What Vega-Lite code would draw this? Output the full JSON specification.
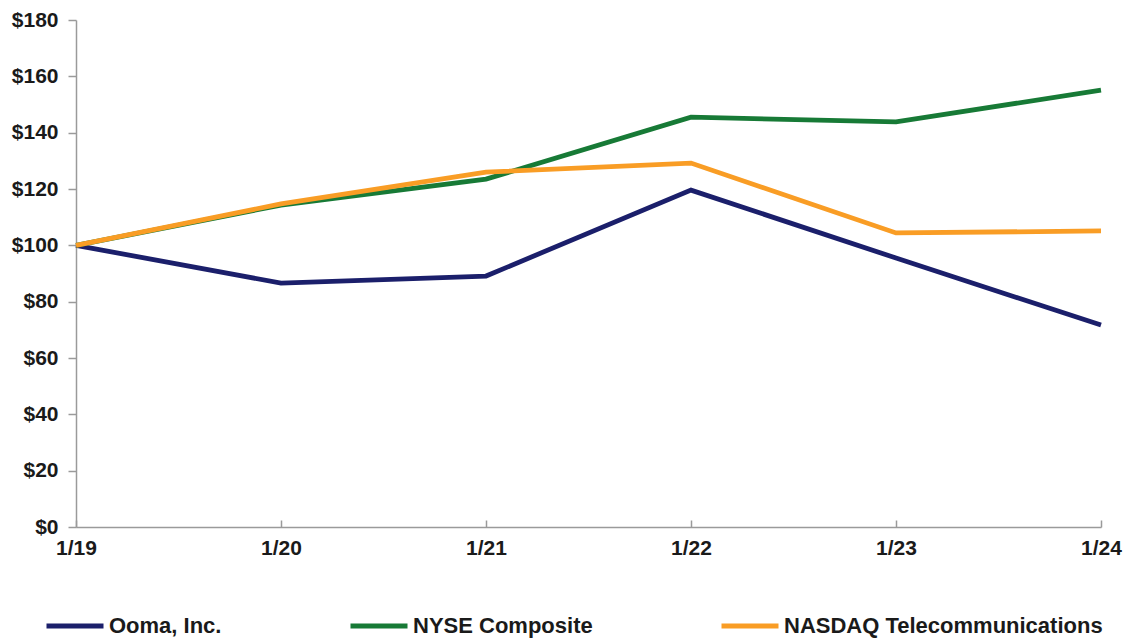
{
  "$schema": "https://vega.github.io/schema/vega-lite/v6.json",
  "width": 1025,
  "height": 507,
  "autosize": {"type": "none"},
  "padding": {"top": 20, "left": 76, "right": 25, "bottom": 111},
  "background": "white",
  "data": {
    "values": [
      {"date": "1/19", "series": "Ooma, Inc.", "value": 100},
      {"date": "1/20", "series": "Ooma, Inc.", "value": 86.6},
      {"date": "1/21", "series": "Ooma, Inc.", "value": 89.1},
      {"date": "1/22", "series": "Ooma, Inc.", "value": 119.6},
      {"date": "1/23", "series": "Ooma, Inc.", "value": 95.5},
      {"date": "1/24", "series": "Ooma, Inc.", "value": 71.7},
      {"date": "1/19", "series": "NYSE Composite", "value": 100},
      {"date": "1/20", "series": "NYSE Composite", "value": 114.3},
      {"date": "1/21", "series": "NYSE Composite", "value": 123.5},
      {"date": "1/22", "series": "NYSE Composite", "value": 145.5},
      {"date": "1/23", "series": "NYSE Composite", "value": 143.8},
      {"date": "1/24", "series": "NYSE Composite", "value": 155.1},
      {"date": "1/19", "series": "NASDAQ Telecommunications", "value": 100},
      {"date": "1/20", "series": "NASDAQ Telecommunications", "value": 114.7},
      {"date": "1/21", "series": "NASDAQ Telecommunications", "value": 126},
      {"date": "1/22", "series": "NASDAQ Telecommunications", "value": 129.2},
      {"date": "1/23", "series": "NASDAQ Telecommunications", "value": 104.4},
      {"date": "1/24", "series": "NASDAQ Telecommunications", "value": 105.1}
    ]
  },
  "mark": {"type": "line", "strokeWidth": 4.8, "strokeJoin": "miter", "strokeCap": "butt"},
  "encoding": {
    "x": {
      "field": "date",
      "type": "ordinal",
      "sort": null,
      "scale": {"type": "point", "padding": 0},
      "axis": {
        "title": null,
        "labelAngle": 0,
        "grid": false,
        "domainColor": "#9a9a9a",
        "domainWidth": 1.5,
        "tickColor": "#9a9a9a",
        "tickWidth": 1.5,
        "tickSize": -7,
        "labelPadding": 17,
        "labelFont": "Liberation Sans",
        "labelFontWeight": "bold",
        "labelFontSize": 21,
        "labelColor": "#1a1a1a"
      }
    },
    "y": {
      "field": "value",
      "type": "quantitative",
      "scale": {"domain": [0, 180], "nice": false, "zero": true},
      "axis": {
        "title": null,
        "values": [0, 20, 40, 60, 80, 100, 120, 140, 160, 180],
        "labelExpr": "'$' + datum.value",
        "grid": false,
        "domainColor": "#9a9a9a",
        "domainWidth": 1.5,
        "tickColor": "#9a9a9a",
        "tickWidth": 1.5,
        "tickSize": 8,
        "labelPadding": 10,
        "labelFont": "Liberation Sans",
        "labelFontWeight": "bold",
        "labelFontSize": 21,
        "labelColor": "#1a1a1a"
      }
    },
    "color": {
      "field": "series",
      "type": "nominal",
      "sort": ["Ooma, Inc.", "NYSE Composite", "NASDAQ Telecommunications"],
      "scale": {
        "domain": ["Ooma, Inc.", "NYSE Composite", "NASDAQ Telecommunications"],
        "range": ["#1b1f6b", "#177a36", "#f99d25"]
      },
      "legend": {
        "title": null,
        "orient": "none",
        "direction": "horizontal",
        "legendX": -32,
        "legendY": 575,
        "padding": 0,
        "symbolType": "stroke",
        "symbolSize": 3249,
        "symbolStrokeWidth": 5,
        "labelOffset": 3,
        "columnPadding": 118,
        "labelFont": "Liberation Sans",
        "labelFontWeight": "bold",
        "labelFontSize": 22,
        "labelColor": "#1a1a1a",
        "labelLimit": 500
      }
    }
  },
  "config": {"view": {"stroke": null}}
}
